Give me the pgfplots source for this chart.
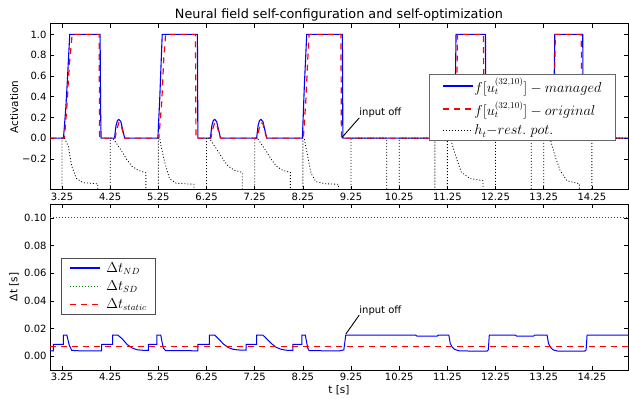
\documentclass[border=0pt]{standalone}
\usepackage{fontspec}
\setmainfont{DejaVu Sans}
\usepackage{pgfplots}
\pgfplotsset{compat=1.18}
\definecolor{mblue}{rgb}{0,0,1}
\definecolor{mred}{rgb}{1,0,0}
\definecolor{mgreen}{rgb}{0,0.5,0}
\pgfplotsset{
  mystyle/.style={
    scale only axis, width=578bp, height=166bp,
    xmin=3, xmax=15,
    xtick={3.25,4.25,5.25,6.25,7.25,8.25,9.25,10.25,11.25,12.25,13.25,14.25},
    xticklabels={3.25,4.25,5.25,6.25,7.25,8.25,9.25,10.25,11.25,12.25,13.25,14.25},
    tick align=inside, major tick length=4bp,
    tick style={black, line width=0.6bp},
    axis line style={black, line width=1bp},
    ticklabel style={font=\fontsize{10bp}{12bp}\selectfont},
    label style={font=\fontsize{10.5bp}{12bp}\selectfont},
    legend cell align=left,
    legend image code/.code={\draw[##1] (0bp,0bp) -- (30bp,0bp);},
  }
}
\begin{document}
\begin{tikzpicture}[x=1bp,y=1bp]
\useasboundingbox (0,0) rectangle (629,398);
\begin{axis}[mystyle,
  at={(50bp,208bp)}, anchor=south west,
  ymin=-0.5, ymax=1.1,
  ytick={-0.2,0,0.2,0.4,0.6,0.8,1.0},
  yticklabels={−0.2,0.0,0.2,0.4,0.6,0.8,1.0},
  ylabel={Activation},
  ylabel style={at={(axis description cs:-0.062,0.5)}, anchor=center},
  title={Neural field self-configuration and self-optimization},
  title style={at={(axis description cs:0.5,1.018)}, anchor=center, font=\fontsize{12.8bp}{14bp}\selectfont},
  legend style={at={(0.979,0.7006)}, anchor=north east, draw=black!60, line width=1bp,
    font=\fontsize{13.3bp}{15bp}\selectfont, row sep=4bp, column sep=-1bp, inner xsep=12bp, inner ysep=2bp},
]
\addplot[draw=mblue, line width=1.1bp, legend image post style={draw=mblue, line width=1.6bp}] coordinates {
(3.0,0)(3.28,0)(3.33,0.3)(3.36,0.55)(3.41,1)(4.04,1)(4.05,0.3)(4.06,0)
(4.34,0)(4.37,0.12)(4.40,0.17)(4.43,0.18)(4.47,0.16)(4.51,0.08)(4.55,0)
(5.24,0)(5.28,0.4)(5.33,1)(6.06,1)(6.07,0)
(6.33,0)(6.36,0.12)(6.39,0.17)(6.42,0.18)(6.46,0.16)(6.50,0.08)(6.54,0)
(7.29,0)(7.32,0.12)(7.35,0.17)(7.38,0.18)(7.42,0.16)(7.46,0.08)(7.50,0)
(8.24,0)(8.28,0.5)(8.33,1)(9.07,1)(9.08,0)
(11.40,0)(11.43,1)(12.04,1)(12.05,0)
(13.45,0)(13.48,1)(14.06,1)(14.07,0)(15,0)
};
\addlegendentry{$f[u_t^{(32,10)}]-managed$}
\addplot[draw=mred, line width=1.2bp, dash pattern=on 6bp off 5bp, legend image post style={draw=mred, line width=1.6bp}] coordinates {
(3.0,0)(3.30,0)(3.35,0.3)(3.40,0.7)(3.46,1)(4.02,1)(4.03,0)
(4.35,0)(4.39,0.09)(4.43,0.15)(4.47,0.14)(4.51,0.06)(4.55,0)
(5.26,0)(5.32,0.35)(5.36,0.75)(5.40,1)(6.02,1)(6.03,0)
(6.34,0)(6.38,0.09)(6.42,0.15)(6.46,0.14)(6.50,0.06)(6.54,0)
(7.30,0)(7.34,0.09)(7.38,0.15)(7.42,0.14)(7.46,0.06)(7.50,0)
(8.26,0)(8.31,0.35)(8.35,0.75)(8.38,1)(9.04,1)(9.05,0)
(11.43,0)(11.46,1)(12.00,1)(12.01,0)
(13.46,0)(13.49,1)(14.03,1)(14.04,0)(15,0)
};
\addlegendentry{$f[u_t^{(32,10)}]-original$}
\addplot[draw=black, line width=0.8bp, dash pattern=on 1bp off 2bp] coordinates {
(3.0,-2)(3.25,-2)(3.25,0)(3.30,0)(3.38,-0.08)(3.45,-0.27)(3.55,-0.39)(3.69,-0.43)(3.99,-0.44)(3.99,-2)
(4.25,-2)(4.25,0)(4.30,0)(4.35,-0.03)(4.48,-0.12)(4.60,-0.21)(4.70,-0.27)(4.83,-0.31)(4.99,-0.335)(4.99,-2)
(5.25,-2)(5.25,0)(5.28,0)(5.30,-0.065)(5.38,-0.23)(5.48,-0.39)(5.62,-0.435)(5.99,-0.445)(5.99,-2)
(6.25,-2)(6.25,0)(6.30,0)(6.35,-0.03)(6.48,-0.12)(6.60,-0.21)(6.70,-0.27)(6.83,-0.31)(6.99,-0.33)(6.99,-2)
(7.25,-2)(7.25,0)(7.30,0)(7.35,-0.03)(7.48,-0.12)(7.60,-0.21)(7.70,-0.27)(7.83,-0.31)(7.99,-0.33)(7.99,-2)
(8.25,-2)(8.25,0)(8.28,0)(8.31,-0.08)(8.42,-0.34)(8.52,-0.42)(8.73,-0.44)(8.99,-0.445)(8.99,-2)
(9.25,-2)(9.25,0)(9.99,0)(9.99,-2)
(10.25,-2)(10.25,0)(10.99,0)(10.99,-2)
(11.25,-2)(11.25,0)(11.31,0)(11.42,-0.17)(11.54,-0.33)(11.72,-0.39)(11.99,-0.41)(11.99,-2)
(12.25,-2)(12.25,0)(12.99,0)(12.99,-2)
(13.25,-2)(13.25,0)(13.38,0)(13.49,-0.18)(13.59,-0.31)(13.73,-0.41)(13.99,-0.44)(13.99,-2)
(14.25,-2)(14.25,0)(15,0)
};
\addlegendentry{$h_t{-}rest.\ pot.$}
\draw[black, line width=0.9bp] (axis cs:9.06,0.005) -- (axis cs:9.42,0.195);
\node[anchor=base west, inner sep=0pt, font=\fontsize{10bp}{12bp}\selectfont] at (axis cs:9.42,0.215) {input off};
\end{axis}

\begin{axis}[mystyle,
  at={(50bp,28bp)}, anchor=south west,
  ymin=-0.01, ymax=0.11,
  ytick={0,0.02,0.04,0.06,0.08,0.10},
  yticklabels={0.00,0.02,0.04,0.06,0.08,0.10},
  ylabel={Δt [s]},
  ylabel style={at={(axis description cs:-0.062,0.5)}, anchor=center},
  xlabel={t [s]},
  xlabel style={at={(axis description cs:0.5,-0.12)}, anchor=center},
  legend style={at={(0.0196,0.6765)}, anchor=north west, draw=black!70, line width=1bp,
    font=\fontsize{13.3bp}{15bp}\selectfont, row sep=3bp, column sep=4bp, inner xsep=7bp, inner ysep=2bp},
]
\addplot[draw=mblue, line width=1bp, legend image post style={draw=mblue, line width=1.6bp}] coordinates {
(3.0,0.0039)(3.07,0.0039)(3.07,0.0085)(3.28,0.0085)(3.28,0.0152)(3.35,0.0152)(3.40,0.0080)(3.45,0.0042)(3.6,0.0039)
(4.07,0.0039)(4.07,0.0085)(4.30,0.0085)(4.30,0.0152)(4.41,0.0152)(4.5,0.0125)(4.6,0.0085)(4.7,0.006)(4.8,0.0047)(4.9,0.0043)(5.04,0.0042)
(5.04,0.0085)(5.22,0.0085)(5.22,0.0152)(5.30,0.0152)(5.35,0.006)(5.40,0.0040)(6.07,0.0039)
(6.07,0.0085)(6.31,0.0085)(6.31,0.0152)(6.42,0.0152)(6.5,0.0125)(6.6,0.0088)(6.7,0.0062)(6.8,0.0050)(6.9,0.0045)(7.07,0.0043)
(7.07,0.0085)(7.29,0.0085)(7.29,0.0152)(7.42,0.0152)(7.5,0.0125)(7.6,0.009)(7.7,0.0063)(7.8,0.005)(7.9,0.0043)(8.04,0.0041)
(8.04,0.0085)(8.23,0.0085)(8.23,0.0152)(8.30,0.0152)(8.35,0.006)(8.38,0.0040)(9.0,0.0038)(9.10,0.0045)
(9.14,0.0152)(10.59,0.0152)(10.62,0.0145)(11.04,0.0145)(11.06,0.0152)(11.28,0.0152)(11.31,0.0092)(11.35,0.0065)(11.4,0.0049)(11.5,0.0038)
(12.07,0.0036)(12.10,0.0045)(12.12,0.0152)(12.66,0.0152)(12.69,0.0145)(13.04,0.0145)(13.06,0.0152)(13.32,0.0152)(13.35,0.0090)(13.4,0.0060)(13.45,0.0045)(13.55,0.0036)
(14.10,0.0036)(14.13,0.0045)(14.15,0.0152)(15,0.0152)
};
\addlegendentry{$\Delta t_{ND}$}
\addplot[draw=mgreen, line width=1bp, dash pattern=on 1bp off 2bp, legend image post style={draw=mgreen}] coordinates {(3,0.1)(15,0.1)};
\addlegendentry{$\Delta t_{SD}$}
\addplot[draw=mred, line width=1.2bp, dash pattern=on 6bp off 5bp, legend image post style={draw=mred, line width=1.6bp}] coordinates {(3,0.0072)(15,0.0072)};
\addlegendentry{$\Delta t_{static}$}
\draw[black, line width=0.9bp] (axis cs:9.14,0.0159) -- (axis cs:9.42,0.0297);
\node[anchor=base west, inner sep=0pt, font=\fontsize{10bp}{12bp}\selectfont] at (axis cs:9.42,0.0305) {input off};
\end{axis}
\end{tikzpicture}
\end{document}
